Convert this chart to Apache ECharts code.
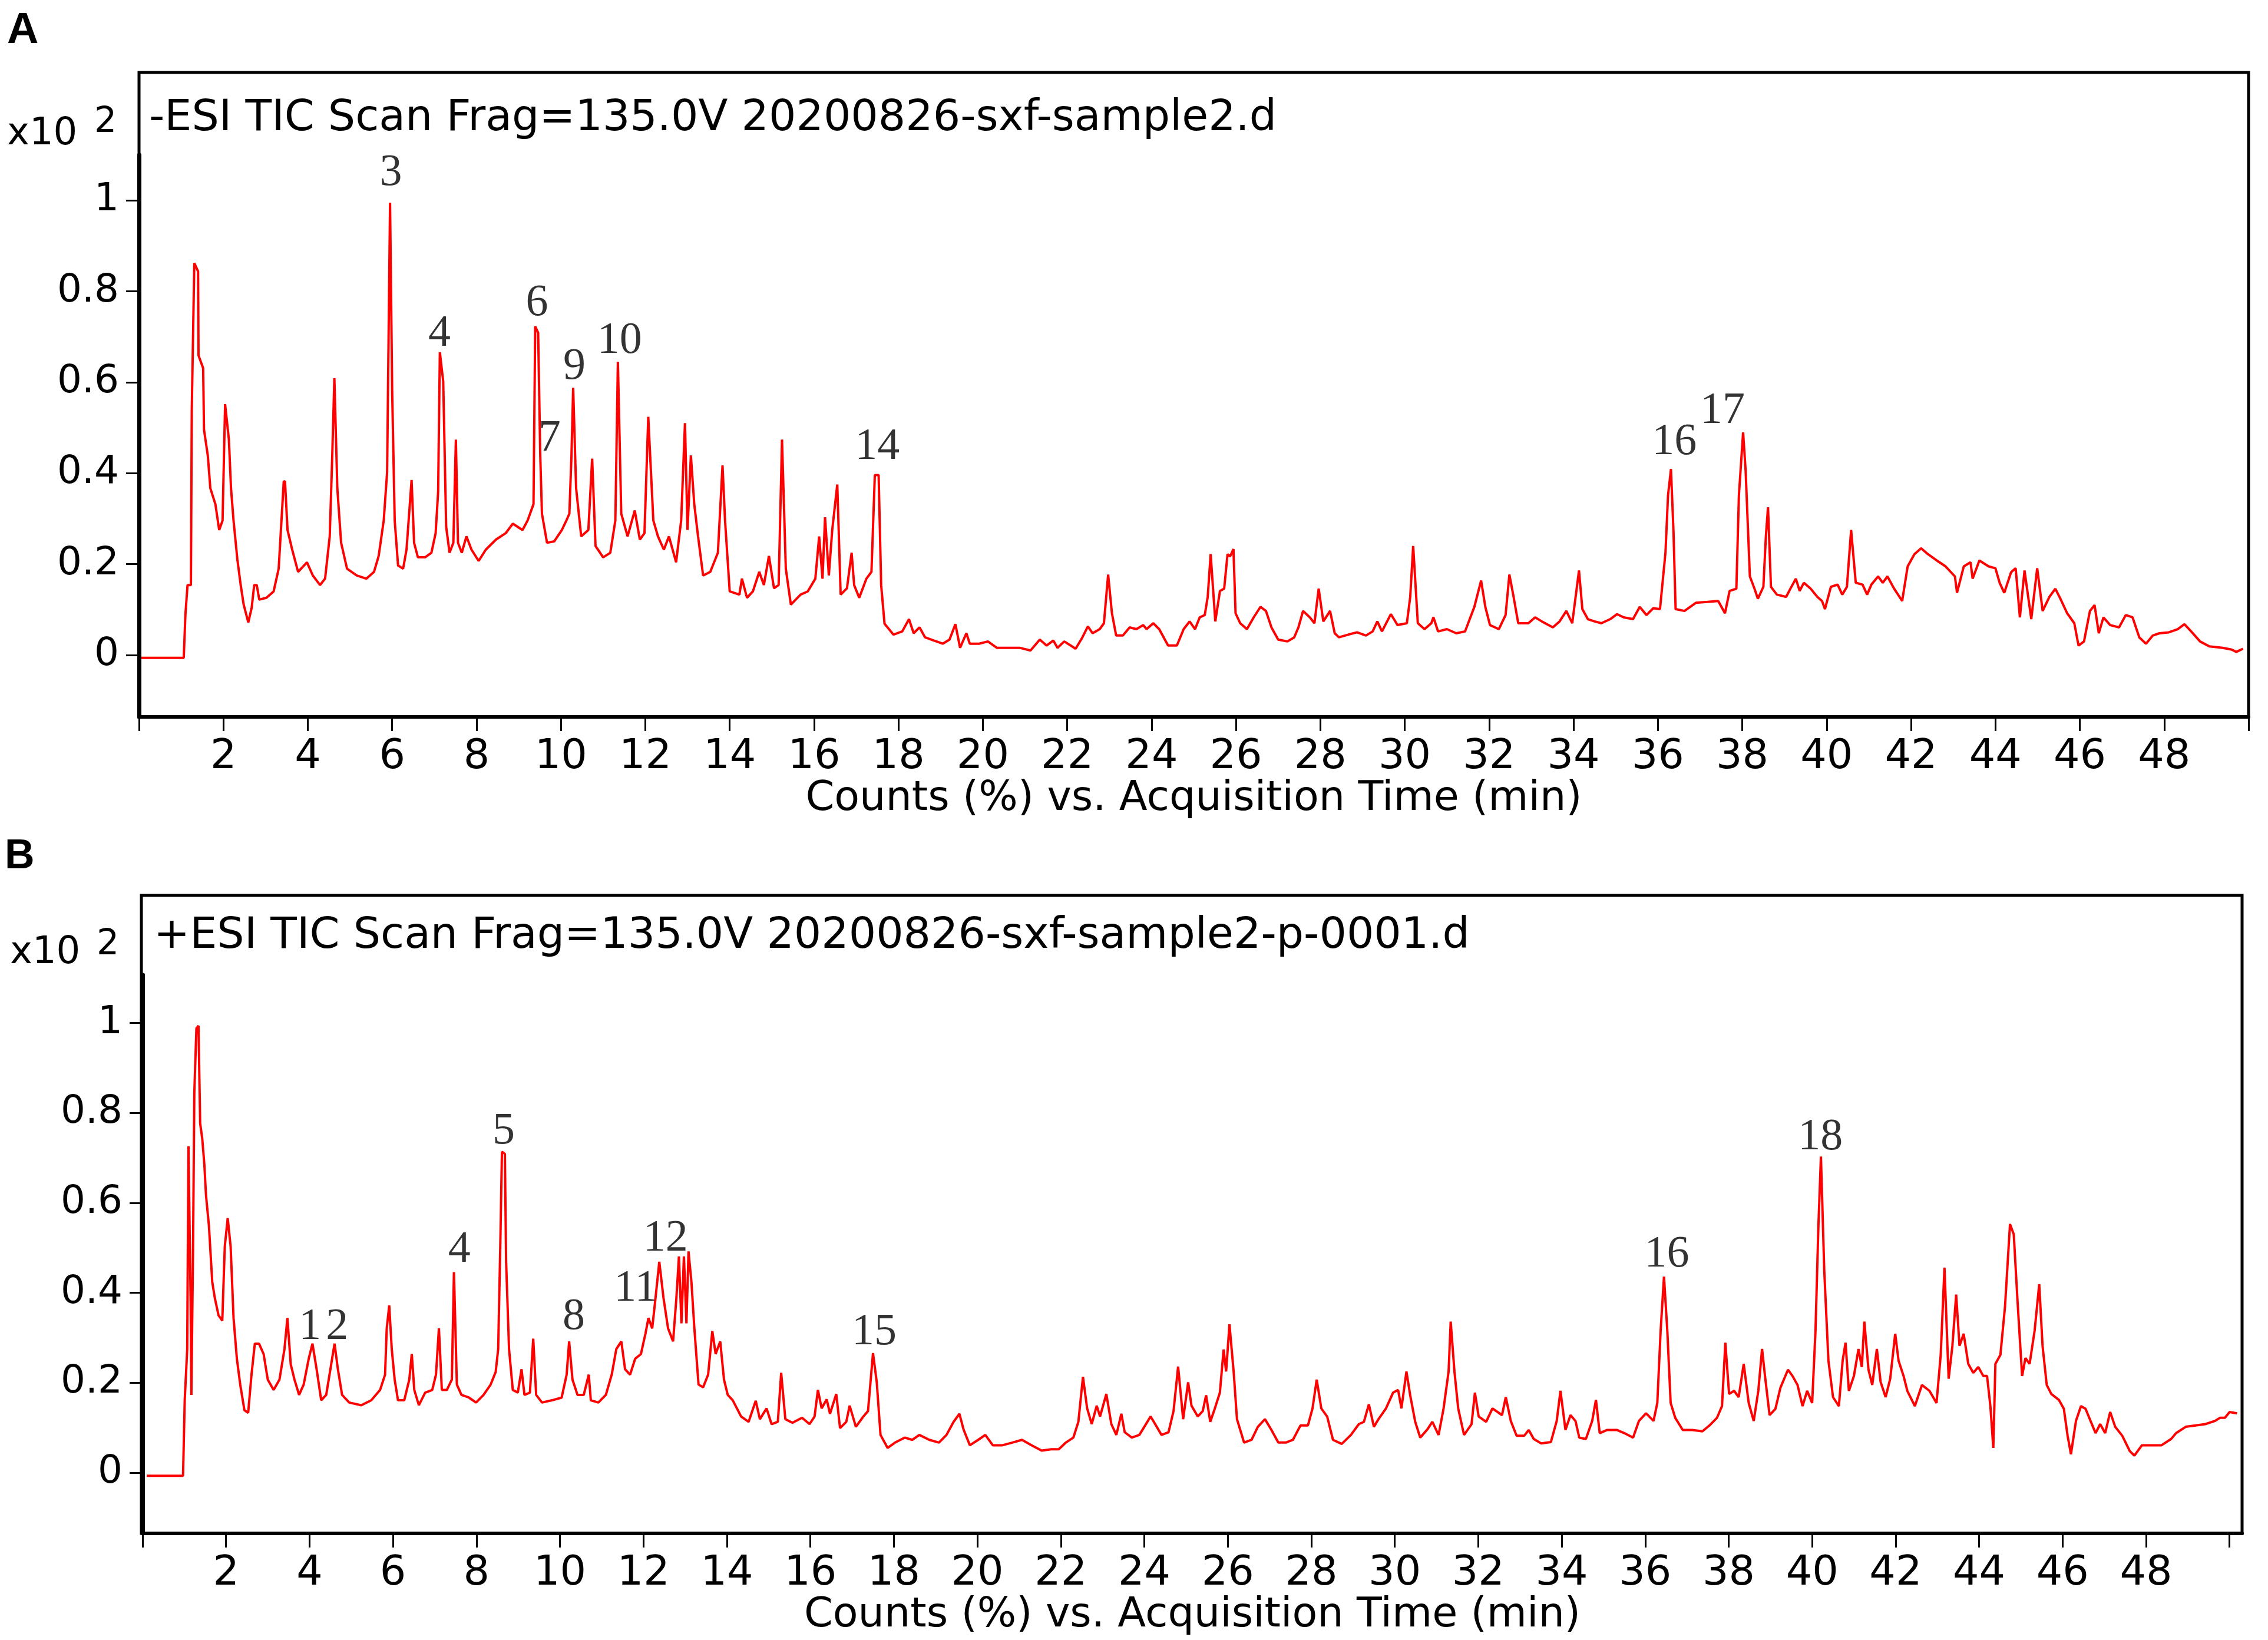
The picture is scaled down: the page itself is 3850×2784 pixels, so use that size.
<!DOCTYPE html>
<html>
<head>
<meta charset="utf-8">
<script src="https://cdn.jsdelivr.net/npm/echarts/dist/echarts.min.js"></script>
<style>
html,body{margin:0;padding:0;background:#fff;}
#chart{width:3850px;height:2784px;}
</style>
</head>
<body>
<div id="chart"></div>
<script>
// ---------- Data (retention time in min, counts x10^2) ----------
// Panel A: -ESI TIC
const negEarly = [[0.05,-0.006],[1.06,-0.006],[1.10,0.09],[1.15,0.154],[1.23,0.154],[1.25,0.538],[1.31,0.862],[1.32,0.862],[1.40,0.844],[1.41,0.659],[1.52,0.631],[1.54,0.496],[1.63,0.439],[1.69,0.367],[1.81,0.332],[1.90,0.275],[1.98,0.296],[2.04,0.552],[2.13,0.474],[2.18,0.367],[2.24,0.296],[2.33,0.211],[2.41,0.154],[2.48,0.111],[2.59,0.072],[2.67,0.104],[2.73,0.154],[2.79,0.154],[2.85,0.122],[3.02,0.126],[3.19,0.140],[3.31,0.190],[3.43,0.382],[3.46,0.382],[3.52,0.275],[3.63,0.232],[3.77,0.183],[3.98,0.204],[4.12,0.175],[4.29,0.154],[4.41,0.168],[4.52,0.261],[4.58,0.439],[4.63,0.609],[4.70,0.367],[4.79,0.247],[4.93,0.190],[5.16,0.175],[5.39,0.168],[5.57,0.183],[5.68,0.218],[5.80,0.296],[5.88,0.402],[5.95,0.995],[6.00,0.581],[6.06,0.296],[6.14,0.197],[6.26,0.190],[6.34,0.232],[6.46,0.385],[6.52,0.247],[6.61,0.215],[6.78,0.215],[6.93,0.225],[7.03,0.268],[7.09,0.360],[7.13,0.666],[7.21,0.602],[7.28,0.282],[7.36,0.225],[7.45,0.247],[7.51,0.474],[7.56,0.247],[7.65,0.225],[7.76,0.261],[7.88,0.232],[8.05,0.207],[8.22,0.232],[8.46,0.254],[8.69,0.268],[8.86,0.289],[9.09,0.275],[9.21,0.296],[9.35,0.332],[9.39,0.723],[9.46,0.709],[9.51,0.439],[9.55,0.311],[9.67,0.247],[9.84,0.250],[10.02,0.275],[10.13,0.296],[10.20,0.311],[10.25,0.439],[10.29,0.588],[10.36,0.367],[10.48,0.261],[10.65,0.275],[10.74,0.432],[10.82,0.240],[11.00,0.215],[11.17,0.225],[11.29,0.296],[11.35,0.645],[11.43,0.311],[11.58,0.261],[11.75,0.318],[11.87,0.254],[11.98,0.268],[12.07,0.524],[12.19,0.296],[12.30,0.261],[12.44,0.232],[12.56,0.261],[12.73,0.204],[12.85,0.296],[12.94,0.510],[13.00,0.275],[13.08,0.439],[13.16,0.332],[13.25,0.261],[13.37,0.175],[13.54,0.183],[13.72,0.225],[13.83,0.417],[13.89,0.296],[14.00,0.140],[14.23,0.133],[14.29,0.168],[14.41,0.126],[14.55,0.140],[14.70,0.183],[14.81,0.154],[14.93,0.218],[15.05,0.147],[15.16,0.154],[15.24,0.474],[15.33,0.190],[15.45,0.111],[15.68,0.133],[15.85,0.140],[16.03,0.168],[16.12,0.261],[16.20,0.168],[16.26,0.303],[16.35,0.175],[16.43,0.275],[16.55,0.375],[16.63,0.133],[16.78,0.147],[16.89,0.225],[16.95,0.154],[17.07,0.126],[17.24,0.168],[17.36,0.183],[17.44,0.396],[17.53,0.396],[17.59,0.154],[17.67,0.069]];
const negMid = [[17.88,0.045],[18.09,0.052],[18.25,0.079],[18.36,0.048],[18.50,0.061],[18.63,0.039],[18.84,0.032],[19.05,0.025],[19.21,0.034],[19.35,0.068],[19.46,0.016],[19.61,0.048],[19.69,0.025],[19.91,0.025],[20.12,0.030],[20.33,0.016],[20.65,0.016],[20.87,0.016],[21.13,0.010],[21.35,0.034],[21.51,0.021],[21.67,0.032],[21.77,0.016],[21.93,0.030],[22.20,0.014],[22.36,0.039],[22.49,0.063],[22.60,0.048],[22.77,0.057],[22.87,0.070],[22.97,0.177],[23.06,0.092],[23.16,0.043],[23.32,0.043],[23.48,0.061],[23.64,0.057],[23.80,0.066],[23.88,0.057],[24.04,0.070],[24.18,0.057],[24.39,0.021],[24.60,0.021],[24.76,0.057],[24.90,0.074],[25.03,0.057],[25.14,0.083],[25.26,0.088],[25.33,0.128],[25.40,0.222],[25.51,0.074],[25.62,0.141],[25.72,0.146],[25.80,0.222],[25.86,0.217],[25.94,0.233],[25.99,0.092],[26.10,0.070],[26.26,0.057],[26.42,0.083],[26.58,0.106],[26.71,0.097],[26.84,0.061],[27.00,0.034],[27.22,0.030],[27.38,0.039],[27.48,0.061],[27.59,0.097],[27.75,0.083],[27.86,0.070],[27.96,0.146],[28.07,0.074],[28.23,0.097],[28.34,0.048],[28.44,0.039],[28.66,0.045],[28.87,0.050],[29.08,0.043],[29.24,0.052],[29.35,0.074],[29.46,0.052],[29.67,0.090],[29.83,0.066],[30.05,0.070],[30.13,0.128],[30.20,0.240],[30.31,0.070],[30.47,0.057],[30.63,0.070],[30.68,0.083],[30.79,0.052],[31.00,0.057],[31.22,0.048],[31.43,0.052],[31.65,0.106],[31.81,0.164],[31.91,0.106],[32.02,0.066],[32.23,0.057],[32.39,0.088],[32.48,0.177],[32.58,0.128],[32.69,0.070],[32.93,0.070],[33.09,0.083],[33.25,0.074],[33.51,0.061],[33.67,0.074],[33.83,0.097],[33.97,0.070]];
const negLate = [[34.13,0.186],[34.21,0.101],[34.34,0.079],[34.50,0.074],[34.66,0.070],[34.87,0.079],[35.03,0.090],[35.19,0.083],[35.41,0.079],[35.57,0.106],[35.73,0.088],[35.89,0.103],[36.05,0.101],[36.18,0.226],[36.24,0.351],[36.31,0.409],[36.37,0.271],[36.42,0.101],[36.63,0.097],[36.90,0.115],[37.17,0.117],[37.43,0.119],[37.59,0.092],[37.70,0.141],[37.86,0.146],[37.92,0.351],[38.02,0.490],[38.08,0.405],[38.18,0.173],[38.29,0.146],[38.37,0.124],[38.50,0.150],[38.56,0.262],[38.61,0.325],[38.68,0.150],[38.82,0.133],[39.04,0.128],[39.14,0.146],[39.27,0.168],[39.36,0.141],[39.46,0.159],[39.62,0.146],[39.78,0.128],[39.89,0.119],[39.96,0.101],[40.10,0.150],[40.26,0.155],[40.37,0.133],[40.48,0.150],[40.58,0.275],[40.69,0.159],[40.85,0.155],[40.96,0.133],[41.06,0.155],[41.22,0.173],[41.33,0.159],[41.44,0.173],[41.60,0.146],[41.79,0.119],[41.92,0.195],[42.08,0.222],[42.24,0.235],[42.40,0.222],[42.61,0.208],[42.82,0.195],[43.04,0.173],[43.09,0.137],[43.25,0.195],[43.41,0.204],[43.46,0.168],[43.62,0.208],[43.84,0.195],[44.00,0.191],[44.10,0.159],[44.21,0.137],[44.37,0.182],[44.48,0.191],[44.58,0.083],[44.69,0.186],[44.85,0.079],[44.99,0.191],[45.12,0.097],[45.28,0.128],[45.42,0.146],[45.54,0.124],[45.70,0.092],[45.87,0.070],[45.97,0.021],[46.10,0.030],[46.24,0.097],[46.35,0.110],[46.45,0.048],[46.56,0.083],[46.72,0.066],[46.93,0.061],[47.09,0.088],[47.25,0.083],[47.41,0.039],[47.57,0.025],[47.73,0.043],[47.89,0.048],[48.11,0.050],[48.32,0.057],[48.48,0.068],[48.64,0.052],[48.85,0.030],[49.07,0.019],[49.39,0.016],[49.60,0.012],[49.71,0.007],[49.87,0.014]];

// Panel B: +ESI TIC
const posEarly = [[0.10,-0.007],[0.97,-0.007],[1.01,0.161],[1.07,0.275],[1.10,0.726],[1.15,0.389],[1.17,0.173],[1.21,0.503],[1.24,0.845],[1.29,0.988],[1.34,0.994],[1.38,0.777],[1.43,0.743],[1.48,0.686],[1.52,0.617],[1.59,0.549],[1.67,0.424],[1.73,0.389],[1.82,0.350],[1.91,0.338],[1.97,0.503],[2.04,0.566],[2.11,0.503],[2.18,0.344],[2.26,0.253],[2.34,0.196],[2.44,0.139],[2.53,0.133],[2.61,0.218],[2.69,0.287],[2.79,0.287],[2.90,0.264],[3.00,0.207],[3.14,0.184],[3.28,0.207],[3.40,0.275],[3.47,0.344],[3.55,0.241],[3.64,0.207],[3.75,0.173],[3.86,0.196],[3.98,0.253],[4.07,0.287],[4.17,0.230],[4.28,0.161],[4.40,0.173],[4.50,0.230],[4.60,0.287],[4.68,0.230],[4.78,0.173],[4.95,0.156],[5.24,0.150],[5.48,0.161],[5.69,0.184],[5.81,0.218],[5.85,0.321],[5.91,0.372],[5.97,0.275],[6.04,0.207],[6.12,0.161],[6.27,0.161],[6.39,0.207],[6.45,0.264],[6.51,0.184],[6.62,0.150],[6.77,0.178],[6.94,0.184],[7.03,0.218],[7.10,0.321],[7.17,0.184],[7.29,0.184],[7.41,0.207],[7.46,0.446],[7.53,0.196],[7.64,0.173],[7.82,0.167],[7.99,0.156],[8.17,0.173],[8.34,0.196],[8.46,0.224],[8.52,0.275],[8.57,0.503],[8.61,0.714],[8.68,0.709],[8.71,0.469],[8.78,0.275],[8.87,0.184],[8.99,0.178],[9.08,0.230],[9.15,0.173],[9.28,0.178],[9.36,0.298],[9.43,0.173],[9.57,0.156],[9.81,0.161],[10.04,0.167],[10.16,0.218],[10.22,0.292],[10.30,0.207],[10.42,0.173],[10.57,0.173],[10.69,0.218],[10.74,0.161],[10.92,0.156],[11.10,0.173],[11.24,0.218],[11.35,0.275],[11.47,0.292],[11.56,0.230],[11.68,0.218],[11.80,0.253],[11.94,0.264],[12.05,0.310],[12.12,0.344],[12.21,0.321],[12.29,0.389],[12.38,0.469],[12.48,0.389],[12.59,0.321],[12.71,0.292],[12.79,0.389],[12.85,0.481],[12.91,0.332],[12.97,0.481],[13.03,0.332],[13.08,0.492],[13.15,0.424],[13.22,0.321],[13.32,0.196],[13.43,0.190],[13.55,0.218],[13.65,0.315],[13.73,0.264],[13.84,0.292],[13.93,0.207],[14.02,0.173],[14.14,0.161]];
const posMid = [[14.34,0.125],[14.52,0.113],[14.69,0.160],[14.79,0.119],[14.95,0.143],[15.07,0.108],[15.22,0.113],[15.30,0.222],[15.40,0.119],[15.57,0.111],[15.80,0.122],[15.98,0.108],[16.10,0.125],[16.18,0.184],[16.27,0.143],[16.39,0.163],[16.47,0.131],[16.62,0.175],[16.71,0.099],[16.86,0.113],[16.94,0.149],[17.09,0.102],[17.27,0.125],[17.38,0.137],[17.50,0.266],[17.59,0.201],[17.68,0.084],[17.85,0.055],[18.03,0.067],[18.26,0.078],[18.44,0.073],[18.61,0.084],[18.85,0.073],[19.08,0.067],[19.26,0.084],[19.43,0.113],[19.57,0.131],[19.67,0.096],[19.82,0.061],[20.02,0.073],[20.19,0.084],[20.37,0.061],[20.60,0.061],[20.84,0.067],[21.07,0.073],[21.30,0.061],[21.54,0.049],[21.77,0.052],[21.95,0.052],[22.12,0.067],[22.30,0.078],[22.42,0.113],[22.53,0.213],[22.63,0.143],[22.74,0.108],[22.86,0.149],[22.94,0.125],[23.09,0.175],[23.21,0.108],[23.33,0.084],[23.45,0.131],[23.53,0.090],[23.70,0.078],[23.88,0.084],[24.00,0.102],[24.15,0.125],[24.26,0.108],[24.41,0.084],[24.58,0.090],[24.70,0.137],[24.81,0.236],[24.93,0.119],[25.05,0.201],[25.13,0.149],[25.28,0.125],[25.40,0.137],[25.48,0.172],[25.58,0.113],[25.69,0.143],[25.81,0.178],[25.90,0.274],[25.96,0.225],[26.04,0.330],[26.14,0.225],[26.22,0.119],[26.39,0.067],[26.57,0.073],[26.72,0.102],[26.89,0.119],[27.04,0.096],[27.21,0.067],[27.39,0.067],[27.56,0.073],[27.74,0.105],[27.92,0.105],[28.03,0.143],[28.13,0.207],[28.24,0.143],[28.38,0.125],[28.52,0.073],[28.73,0.064],[28.95,0.084],[29.14,0.108],[29.26,0.113],[29.38,0.152],[29.50,0.102],[29.61,0.119],[29.79,0.143],[29.96,0.178],[30.08,0.184],[30.16,0.143],[30.28,0.225],[30.37,0.172],[30.49,0.113],[30.61,0.078],[30.78,0.096],[30.90,0.113],[31.05,0.084],[31.17,0.143],[31.29,0.225],[31.34,0.336],[31.43,0.225],[31.52,0.143],[31.66,0.084],[31.84,0.108],[31.92,0.178],[32.01,0.125],[32.19,0.113],[32.34,0.143]];
const posLate = [[32.57,0.128],[32.66,0.168],[32.78,0.115],[32.92,0.082],[33.10,0.082],[33.21,0.095],[33.33,0.075],[33.51,0.065],[33.74,0.068],[33.88,0.115],[33.97,0.182],[34.09,0.095],[34.21,0.128],[34.33,0.115],[34.42,0.078],[34.58,0.075],[34.73,0.115],[34.82,0.162],[34.91,0.088],[35.09,0.095],[35.32,0.095],[35.50,0.088],[35.71,0.078],[35.85,0.115],[36.02,0.132],[36.20,0.115],[36.29,0.155],[36.37,0.316],[36.45,0.436],[36.53,0.316],[36.61,0.155],[36.72,0.122],[36.90,0.095],[37.13,0.095],[37.37,0.092],[37.54,0.105],[37.72,0.122],[37.84,0.148],[37.92,0.289],[38.01,0.175],[38.13,0.182],[38.24,0.168],[38.36,0.242],[38.48,0.155],[38.60,0.115],[38.71,0.182],[38.80,0.275],[38.87,0.215],[38.98,0.128],[39.12,0.142],[39.24,0.189],[39.42,0.229],[39.53,0.215],[39.65,0.195],[39.77,0.148],[39.88,0.182],[40.00,0.155],[40.08,0.316],[40.15,0.550],[40.21,0.703],[40.29,0.449],[40.39,0.249],[40.50,0.168],[40.64,0.148],[40.73,0.249],[40.80,0.289],[40.88,0.182],[41.00,0.215],[41.11,0.275],[41.19,0.235],[41.25,0.336],[41.35,0.229],[41.44,0.195],[41.55,0.275],[41.64,0.202],[41.76,0.168],[41.87,0.209],[41.99,0.309],[42.07,0.249],[42.19,0.215],[42.28,0.182],[42.46,0.148],[42.63,0.195],[42.81,0.182],[42.98,0.155],[43.08,0.262],[43.17,0.456],[43.27,0.209],[43.36,0.282],[43.45,0.396],[43.53,0.282],[43.63,0.309],[43.74,0.242],[43.86,0.222],[43.98,0.235],[44.10,0.215],[44.19,0.215],[44.27,0.148],[44.34,0.055],[44.39,0.242],[44.51,0.262],[44.62,0.369],[44.74,0.553],[44.83,0.530],[44.92,0.382],[45.03,0.215],[45.11,0.255],[45.21,0.242],[45.33,0.316],[45.44,0.419],[45.52,0.282],[45.62,0.195],[45.73,0.175],[45.91,0.162],[46.03,0.142],[46.12,0.082],[46.20,0.041],[46.32,0.115],[46.44,0.148],[46.55,0.142],[46.67,0.115],[46.79,0.088],[46.90,0.108],[47.02,0.088],[47.14,0.135],[47.26,0.102],[47.43,0.082],[47.61,0.048],[47.72,0.038],[47.90,0.061],[48.13,0.061],[48.37,0.061],[48.60,0.075],[48.72,0.088],[48.95,0.102],[49.19,0.105],[49.42,0.108],[49.65,0.115],[49.77,0.122],[49.89,0.122],[50.00,0.135],[50.18,0.132]];

// Peak annotations: [label, time, height of label centre]
const peaksA = [['3',5.97,1.06],['4',7.12,0.706],['6',9.43,0.774],['7',9.73,0.476],['9',10.32,0.634],['10',11.39,0.69],['14',17.5,0.457],['16',36.39,0.468],['17',37.53,0.536]];
const peaksB = [['1',4.01,0.324],['2',4.66,0.324],['4',7.59,0.495],['5',8.65,0.758],['8',10.33,0.346],['11',11.81,0.409],['12',12.53,0.52],['15',17.53,0.312],['16',36.52,0.484],['18',40.2,0.745]];

// Axis ticks
const xTickValues = [0,2,4,6,8,10,12,14,16,18,20,22,24,26,28,30,32,34,36,38,40,42,44,46,48,50];
const xTickLabels = [2,4,6,8,10,12,14,16,18,20,22,24,26,28,30,32,34,36,38,40,42,44,46,48];
const yTickLabels = [0,0.2,0.4,0.6,0.8,1];

const titleA = '-ESI TIC Scan Frag=135.0V 20200826-sxf-sample2.d';
const titleB = '+ESI TIC Scan Frag=135.0V 20200826-sxf-sample2-p-0001.d';
const xName = 'Counts (%) vs. Acquisition Time (min)';

// ---------- Chart ----------
const SANS = 'DejaVu Sans';
const SERIF = 'Liberation Serif';
const chart = echarts.init(document.getElementById('chart'), null, {renderer:'canvas', width:3850, height:2784, devicePixelRatio:1});

function xAxisOf(gridIndex, max) {
  return {
    type:'value', gridIndex, min:0, max,
    axisLine:{show:true, onZero:false, lineStyle:{color:'#000', width:6}},
    axisTick:{show:true, inside:false, length:24, customValues:xTickValues, lineStyle:{color:'#000', width:3}},
    axisLabel:{show:true, customValues:xTickLabels, color:'#000', fontFamily:SANS, fontSize:70, margin:34},
    splitLine:{show:false},
    name:xName, nameLocation:'middle', nameGap:104,
    nameTextStyle:{color:'#000', fontFamily:SANS, fontSize:70}
  };
}
function yAxisOf(gridIndex, min, max) {
  return {
    type:'value', gridIndex, min, max,
    axisLine:{show:true, onZero:false, lineStyle:{color:'#000', width:7}},
    axisTick:{show:true, inside:false, length:22, customValues:yTickLabels, lineStyle:{color:'#000', width:3}},
    axisLabel:{show:true, customValues:yTickLabels, color:'#000', fontFamily:SANS, fontSize:66, margin:34},
    splitLine:{show:false}
  };
}
function traceSeries(idx, data) {
  return {
    type:'line', xAxisIndex:idx, yAxisIndex:idx, data, showSymbol:false, symbol:'none',
    lineStyle:{color:'#ff0000', width:4}, itemStyle:{color:'#ff0000'}, sampling:null, silent:true, z:2
  };
}
function peakSeries(idx, peaks) {
  return {
    type:'scatter', xAxisIndex:idx, yAxisIndex:idx, symbol:'circle', symbolSize:2, silent:true, z:5,
    itemStyle:{color:'rgba(255,255,255,0)'},
    data: peaks.map(p => ({name:p[0], value:[p[1], p[2]]})),
    label:{show:true, position:'inside', formatter:'{b}', color:'#000', fontFamily:SERIF, fontSize:76}
  };
}

const option = {
  animation:false,
  backgroundColor:'#fff',
  grid:[
    {left:236, top:263, width:3581, height:954},
    {left:242, top:1655, width:3564, height:948}
  ],
  xAxis:[xAxisOf(0, 50), xAxisOf(1, 50.3)],
  yAxis:[yAxisOf(0, -0.136, 1.10), yAxisOf(1, -0.135, 1.107)],
  series:[
    traceSeries(0, negEarly.concat(negMid, negLate)),
    traceSeries(1, posEarly.concat(posMid, posLate)),
    peakSeries(0, peaksA),
    peakSeries(1, peaksB)
  ],
  graphic:[
    {type:'rect', shape:{x:236, y:123, width:3581, height:1094}, style:{fill:'none', stroke:'#000', lineWidth:5}, z:1},
    {type:'rect', shape:{x:240, y:1520, width:3566, height:1083}, style:{fill:'none', stroke:'#000', lineWidth:5}, z:1},
    {type:'text', left:12, top:16, style:{text:'A', fill:'#000', font:'bold 74px "Liberation Sans"'}},
    {type:'text', left:8, top:1420, style:{text:'B', fill:'#000', font:'bold 70px "Liberation Sans"'}},
    {type:'text', left:253, top:166, style:{text:titleA, fill:'#000', font:'73px "DejaVu Sans"'}},
    {type:'text', left:261, top:1554, style:{text:titleB, fill:'#000', font:'73px "DejaVu Sans"'}},
    {type:'text', left:12, top:196, style:{text:'x10', fill:'#000', font:'64px "DejaVu Sans"'}},
    {type:'text', left:160, top:178, style:{text:'2', fill:'#000', font:'60px "DejaVu Sans"'}},
    {type:'text', left:17, top:1586, style:{text:'x10', fill:'#000', font:'64px "DejaVu Sans"'}},
    {type:'text', left:164, top:1574, style:{text:'2', fill:'#000', font:'60px "DejaVu Sans"'}}
  ]
};
chart.setOption(option);
</script>
</body>
</html>
